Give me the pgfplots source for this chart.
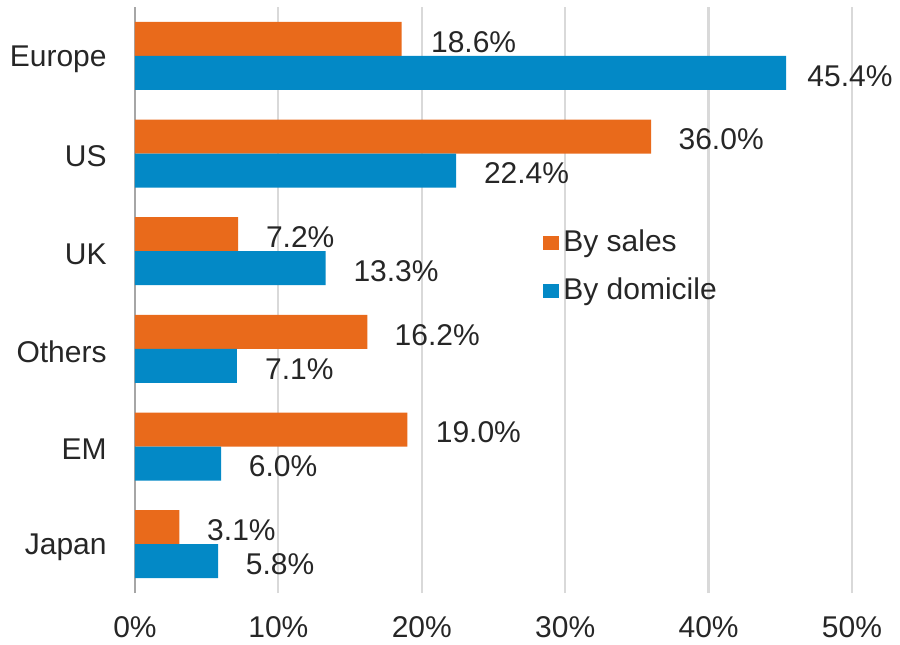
\documentclass[border=0pt]{standalone}
\usepackage{fontspec}
\setmainfont{Liberation Sans}
\usepackage{pgfplots}
\usepackage{pgfplotstable}
\pgfplotsset{compat=1.18}

\definecolor{salesor}{RGB}{233,106,27}
\definecolor{domblue}{RGB}{3,137,198}
\definecolor{txt}{RGB}{38,38,38}

% y: Europe=5 ... Japan=0; sg/dg = label gap (pt) for each bar
\pgfplotstableread{
y sales dom sg dg
5 18.6 45.4 9.5 5.5
4 36.0 22.4 8.5 8.7
3 7.2 13.3 8.7 8.7
2 16.2 7.1 8.5 9.0
1 19.0 6.0 9.0 8.7
0 3.1 5.8 8.7 8.7
}\regions

\begin{document}
\fontsize{15}{18}\selectfont
\begin{tikzpicture}
\begin{axis}[
  name=main, at={(0,0)}, anchor=south west,
  scale only axis, width=358.5pt, height=293pt,
  xmin=0, xmax=50, ymin=-0.5, ymax=5.5,
  xtick={0,10,...,50},
  xticklabels={0\%,10\%,20\%,30\%,40\%,50\%},
  ytick={0,...,5},
  yticklabels={Japan,EM,Others,UK,US,Europe},
  major tick length=0pt,
  axis y line*=left, axis x line*=bottom,
  x axis line style={draw=none},
  y axis line style={draw=black!35, line width=1.4pt},
  xmajorgrids, grid style={black!15, line width=1.1pt},
  xticklabel style={yshift=-6.8pt, text=txt},
  yticklabel style={xshift=-9pt, yshift=-1.5pt, text=txt},
  xbar=0pt, bar width=17pt,
  /pgf/number format/assume math mode=true,
  nodes near coords={\pgfmathprintnumber[fixed,fixed zerofill,precision=1]{\pgfplotspointmeta}\%},
  every node near coord/.append style={anchor=west, text=txt, yshift=-1.5pt},
  legend style={draw=none, fill=none, at={(0.569,0.556)}, anchor=west,
    inner sep=0pt, row sep=7pt, text=txt,
    /tikz/every even column/.append style={column sep=5.5pt}},
  legend cell align=left,
  legend image code/.code={\fill[#1,draw=none] (0pt,-3.5pt) rectangle (8pt,3.5pt);},
]
\addplot[fill=salesor, draw=none, bar shift=8.5pt,
  visualization depends on={\thisrow{sg} \as \gap},
  nodes near coords style={xshift=\gap pt}]
  table[x=sales, y=y] {\regions};
\addplot[fill=domblue, draw=none, bar shift=-8.5pt,
  visualization depends on={\thisrow{dg} \as \gap},
  nodes near coords style={xshift=\gap pt}]
  table[x=dom, y=y] {\regions};
\legend{By sales,By domicile}
\end{axis}
\pgfresetboundingbox
\path (-67.5pt,-25.5pt) rectangle (382.5pt,296.5pt);
\end{tikzpicture}
\end{document}
